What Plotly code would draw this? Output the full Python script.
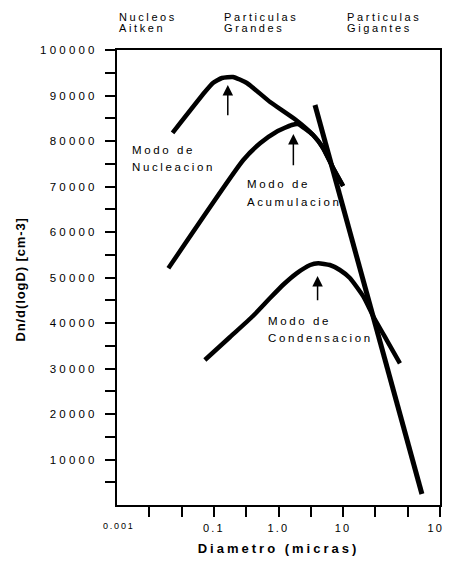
import plotly.graph_objects as go

FONT = "Arial, 'Liberation Sans', sans-serif"

# x values are positions on the diameter axis, in tick intervals (0 = 0.001 ... 10 = 100)
nuc_x = [1.72, 2.72, 2.97, 3.25, 3.59, 4.02, 4.74, 5.54, 6.07, 6.38, 6.69, 7.00]
nuc_y = [81800, 90770, 92750, 93850, 94070, 92750, 88570, 84620, 81320, 78460, 74070, 70110]
acu_x = [1.59, 3.91, 4.43, 4.94, 5.41, 5.60, 6.07, 6.38, 6.69, 7.00]
acu_y = [52020, 75820, 79500, 82040, 83520, 83740, 81320, 78460, 74070, 70110]
con_x = [2.72, 3.50, 4.21, 4.74, 5.17, 5.56, 5.98, 6.23, 6.59, 6.90, 7.21, 7.63, 7.94, 8.35, 8.76]
con_y = [31870, 36920, 41540, 45490, 48570, 50920, 52750, 53120, 52750, 51650, 49890, 45780, 41380, 36260, 31140]
gig_x = [6.13, 9.44]
gig_y = [87910, 2420]

# arrows: x, tip y, tail y
arrow_x = [3.43, 5.46, 6.21]
arrow_tip = [92310, 81540, 50330]
arrow_tail = [85340, 74350, 44680]

x_tickvals = [1, 2, 3, 4, 5, 6, 7, 8, 9, 10]
x_ticktext = ["", "", "0.1", "", "1.0", "", "10", "", "", "100"]
x_first_label = "0.001"
y_tickvals = list(range(5000, 100001, 5000))
y_ticktext = [str(v) if v % 10000 == 0 else "" for v in y_tickvals]
x_title = "Diametro (micras)"
y_title = "Dn/d(logD) [cm-3]"

top_labels = [("Nucleos", "Aitken"), ("Particulas", "Grandes"), ("Particulas", "Gigantes")]
top_label_x = [0.0, 0.3241, 0.706]

mode_labels = [("Modo de", "Nucleacion"), ("Modo de", "Acumulacion"), ("Modo de", "Condensacion")]
mode_label_x = [0.40, 3.96, 4.61]
mode_label_y = [(78020, 74290), (70660, 66590), (40550, 36700)]


def sp(t, ls):
    return f'<span style="letter-spacing:{ls}px">{t}</span>'


fig = go.Figure()
line = dict(color="black", width=4.5, shape="spline", smoothing=0.5)
for xs, ys in [(nuc_x, nuc_y), (acu_x, acu_y), (con_x, con_y)]:
    fig.add_trace(go.Scatter(x=xs, y=ys, mode="lines", line=line, hoverinfo="skip"))
fig.add_trace(go.Scatter(x=gig_x, y=gig_y, mode="lines",
                         line=dict(color="black", width=5), hoverinfo="skip"))

ann = []
for x, tip, tail in zip(arrow_x, arrow_tip, arrow_tail):
    ann.append(dict(x=x, y=tip, ax=x, ay=tail, axref="x", ayref="y", xref="x", yref="y",
                    text="", showarrow=True, arrowhead=2, arrowsize=1.4, arrowwidth=1.5,
                    arrowcolor="black"))

for (l1, l2), xp in zip(top_labels, top_label_x):
    for txt, yp in [(l1, 1.0736), (l2, 1.0473)]:
        ann.append(dict(x=xp, y=yp, xref="paper", yref="paper", xanchor="left", yanchor="middle",
                        text=sp(txt, 2.6), showarrow=False,
                        font=dict(family=FONT, size=11, color="black")))

for (l1, l2), xp, (y1, y2) in zip(mode_labels, mode_label_x, mode_label_y):
    for txt, yp in [(l1, y1), (l2, y2)]:
        ann.append(dict(x=xp, y=yp, xref="x", yref="y", xanchor="left", yanchor="middle",
                        text=sp(txt, 2.6), showarrow=False,
                        font=dict(family=FONT, size=11.5, color="black")))

ann.append(dict(x=0.05, y=-0.046, xref="x", yref="paper", xanchor="center", yanchor="middle",
                text=sp(x_first_label, 1.8), showarrow=False,
                font=dict(family=FONT, size=9, color="black")))

# y-axis title
ann.append(dict(x=-0.298, y=0.495, xref="paper", yref="paper", xanchor="center", yanchor="middle",
                text="<b>" + sp(y_title, 0.9) + "</b>", textangle=-90, showarrow=False,
                font=dict(family=FONT, size=13, color="black")))

fig.update_layout(
    width=444, height=548,
    margin=dict(l=109, r=12, t=42, b=51, autoexpand=False),
    paper_bgcolor="white", plot_bgcolor="white",
    showlegend=False,
    annotations=ann,
    font=dict(family=FONT, color="black"),
)
fig.update_xaxes(
    range=[0, 10], showgrid=False, zeroline=False, automargin=False,
    showline=True, linecolor="black", linewidth=2, mirror=True,
    ticks="outside", ticklen=10, tickwidth=2, tickcolor="black", tickangle=0,
    ticklabelstandoff=2, ticklabeloverflow="allow",
    tickvals=x_tickvals, ticktext=[sp(t, 2.2) for t in x_ticktext],
    tickfont=dict(family=FONT, size=11, color="black"),
    title=dict(text="<b>" + sp(x_title, 3) + "</b>", standoff=24,
               font=dict(family=FONT, size=13, color="black")),
)
fig.update_yaxes(
    range=[0, 100000], showgrid=False, zeroline=False, automargin=False,
    showline=True, linecolor="black", linewidth=2, mirror=True,
    ticks="outside", ticklen=10, tickwidth=2, tickcolor="black",
    ticklabelstandoff=5,
    tickvals=y_tickvals, ticktext=[sp(t, 3.2) for t in y_ticktext],
    tickfont=dict(family=FONT, size=11.5, color="black"),
)

fig.write_html("out.html")
